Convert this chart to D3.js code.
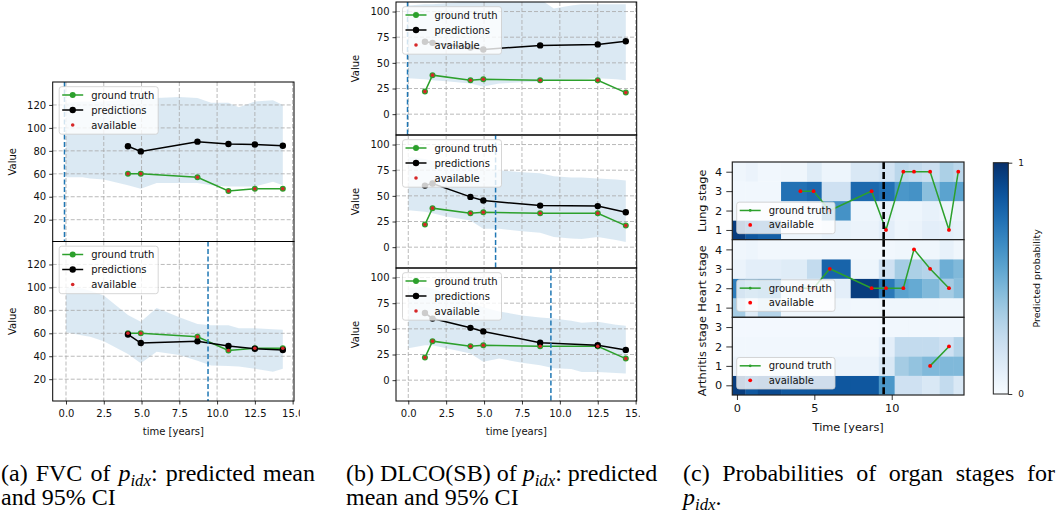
<!DOCTYPE html>
<html>
<head>
<meta charset="utf-8">
<script src="https://cdn.jsdelivr.net/npm/d3@7"></script>
<style>
  body { margin: 0; background: #fff; }
  svg { display: block; }
</style>
</head>
<body>
<div id="root"></div>
<script>
// ---------- data ----------
// (a) FVC
const fvcTimes = [4.1, 4.95, 8.7, 10.75, 12.5, 14.35];
const fvcTruth = [60, 60, 57, 45, 47, 47];
const fvcPred = [
  [84, 79.5, 88, 86, 85.5, 84.5],
  [59, 51.5, 53, 49, 46.5, 45.5]
];
const fvcCutoff = [-0.1, 9.4];
const ciTimes = [0, 1.1, 1.6, 2.5, 4.1, 4.95, 6.0, 7.5, 8.7, 9.6, 10.75, 11.44, 12.5, 13.7, 14.35];
const fvcUpper = [
  [122, 123, 123, 123, 125, 125, 126, 127, 126, 122, 122, 118, 123, 124, 120],
  [100, 99, 97, 93, 76, 70, 82, 74, 68, 67, 67, 64.5, 64.5, 63.5, 63]
];
const fvcLower = [
  [57, 57, 56, 55, 50, 47, 52, 52, 52, 50, 49, 49, 49, 53, 50],
  [61, 58, 57, 53, 42, 34, 44, 41, 36, 32, 31.5, 31, 29, 26.5, 29]
];
const fvcYTicks = [20, 40, 60, 80, 100, 120];

// (b) DLCO(SB)
const dlcoTimes = [1.1, 1.6, 4.1, 4.95, 8.7, 12.5, 14.35];
const dlcoTruth = [22, 38, 33, 34, 33, 33, 21];
const dlcoPred = [
  [70.5, 69.5, 65, 63, 67, 68, 71],
  [60, 62, 49, 45.5, 40.5, 40, 34],
  [65.5, 60, 51, 47.5, 36.5, 34, 29.5]
];
const dlcoCutoff = [-0.05, 5.76, 9.41];
const dlcoUpper = [
  [106, 107, 107, 108, 110, 112, 112, 112, 112, 103, 106, 107, 107, 107, 107],
  [88, 86, 84, 82, 79, 77, 75, 73, 72, 69, 68, 68, 67, 66, 65],
  [90, 91, 89, 85, 76, 71, 67, 63, 61, 60, 58, 56, 57, 54, 53]
];
const dlcoLower = [
  [35, 34, 33, 32, 30, 27, 30, 31, 31.5, 33, 34, 34, 35, 34, 33],
  [36, 34.5, 33, 30, 26, 18, 18, 15.5, 14, 10, 8.5, 8, 10, 7, 5],
  [31, 34, 34, 31, 26, 18, 21, 17, 14.5, 11.5, 11, 8, 8, 7, 6.5]
];
const dlcoYTicks = [0, 25, 50, 75, 100];
const timeTicks = [0, 2.5, 5, 7.5, 10, 12.5, 15];

// (c) organ stage probabilities (rows = stage levels, cols = stageTimes)
const stageTimes = [0, 1.1, 1.6, 4.1, 4.95, 6.0, 8.7, 9.63, 10.75, 11.44, 12.48, 13.7, 14.3];
const lungLevels = [1, 2, 3, 4];
const lungProb = [
  [0.95, 0.85, 0.82, 0.05, 0.05, 0.08, 0.06, 0.10, 0.05, 0.06, 0.10, 0.10, 0.08],
  [0.04, 0.05, 0.04, 0.06, 0.10, 0.62, 0.05, 0.08, 0.05, 0.05, 0.08, 0.05, 0.06],
  [0.03, 0.03, 0.03, 0.75, 0.78, 0.20, 0.78, 0.75, 0.60, 0.62, 0.42, 0.55, 0.55],
  [0.04, 0.06, 0.03, 0.04, 0.12, 0.05, 0.15, 0.18, 0.28, 0.25, 0.22, 0.33, 0.28]
];
const heartLevels = [1, 2, 3, 4];
const heartProb = [
  [0.35, 0.12, 0.30, 0.04, 0.04, 0.04, 0.03, 0.04, 0.04, 0.04, 0.04, 0.04, 0.04],
  [0.70, 0.60, 0.65, 0.15, 0.15, 0.10, 0.95, 0.72, 0.55, 0.52, 0.45, 0.35, 0.42],
  [0.06, 0.10, 0.10, 0.12, 0.25, 0.80, 0.05, 0.20, 0.35, 0.33, 0.30, 0.50, 0.45],
  [0.04, 0.05, 0.03, 0.03, 0.03, 0.03, 0.03, 0.03, 0.04, 0.04, 0.04, 0.08, 0.04]
];
const arthLevels = [0, 1, 2, 3];
const arthProb = [
  [0.95, 0.85, 0.90, 0.85, 0.85, 0.85, 0.85, 0.60, 0.20, 0.20, 0.15, 0.25, 0.15],
  [0.06, 0.06, 0.06, 0.06, 0.06, 0.06, 0.06, 0.15, 0.35, 0.40, 0.45, 0.45, 0.45],
  [0.03, 0.03, 0.03, 0.03, 0.03, 0.03, 0.03, 0.10, 0.25, 0.25, 0.25, 0.20, 0.30],
  [0.02, 0.02, 0.02, 0.02, 0.02, 0.02, 0.02, 0.03, 0.03, 0.03, 0.03, 0.03, 0.03]
];
const lungTruthT = [4.1, 4.95, 6.0, 8.7, 9.63, 10.75, 11.44, 12.48, 13.7, 14.3];
const lungTruth = [3, 3, 2, 3, 1, 4, 4, 4, 1, 4];
const heartTruthT = [4.1, 4.95, 6.0, 8.7, 9.63, 10.75, 11.44, 12.48, 13.7];
const heartTruth = [2, 2, 3, 2, 2, 2, 4, 3, 2];
const arthTruthT = [12.48, 13.7];
const arthTruth = [1, 2];
const stageCutoff = 9.48;

// ---------- drawing ----------
const width = 1060, height = 519;
const font = '"DejaVu Sans", sans-serif';
const gtColor = '#2ca02c', availColor = '#d62728', ciColor = '#1f77b4';

const svg = d3.select('#root').append('svg')
  .attr('width', width).attr('height', height)
  .style('font-family', font);

let clipCount = 0;
function clipRect(x, y, w, h) {
  const id = 'clip' + (clipCount++);
  svg.append('clipPath').attr('id', id)
    .append('rect').attr('x', x).attr('y', y).attr('width', w).attr('height', h);
  return `url(#${id})`;
}

function styleAxis(g, size) {
  g.attr('font-family', null).attr('font-size', null);
  g.select('.domain').remove();
  g.selectAll('.tick line').attr('stroke', '#000').attr('stroke-width', 0.8);
  g.selectAll('.tick text').attr('fill', '#111').style('font-size', size + 'px');
}

function legend(g, x0, y0, w, rows, rowH) {
  const lg = g.append('g');
  lg.append('rect')
    .attr('x', x0).attr('y', y0).attr('width', w).attr('height', rows.length * rowH + 2.5)
    .attr('rx', 2.5).attr('fill', '#fff').attr('fill-opacity', 0.8)
    .attr('stroke', '#cccccc').attr('stroke-width', 0.8);
  rows.forEach((r, i) => {
    const cy = y0 + 8.3 + i * rowH;
    if (r.line) {
      lg.append('line').attr('x1', x0 + 3).attr('x2', x0 + 24).attr('y1', cy).attr('y2', cy)
        .attr('stroke', r.color).attr('stroke-width', 1.5);
    }
    lg.append('circle').attr('cx', x0 + 13.5).attr('cy', cy).attr('r', r.r).attr('fill', r.color);
    lg.append('text').attr('x', x0 + 32).attr('y', cy).attr('dy', '0.35em')
      .style('font-size', '10px').attr('fill', '#111').text(r.label);
  });
}

const seriesLegend = [
  {label: 'ground truth', color: gtColor, line: true, r: 3},
  {label: 'predictions', color: '#000', line: true, r: 3.2},
  {label: 'available', color: availColor, line: false, r: 1.8}
];

function seriesPanel(parent, o) {
  const x = o.x;
  const y = d3.scaleLinear().domain(o.yDomain).range([o.bottom, o.top]);
  const [left, right] = x.range();
  const g = parent.append('g');
  const inner = g.append('g').attr('clip-path', clipRect(left, o.top, right - left, o.bottom - o.top));

  const area = d3.area()
    .x((d, i) => x(ciTimes[i]))
    .y0(d => y(d[0])).y1(d => y(d[1]));
  inner.append('path').datum(d3.zip(o.lower, o.upper))
    .attr('d', area).attr('fill', ciColor).attr('fill-opacity', 0.16);

  // grid
  inner.selectAll('.gx').data(timeTicks).enter().append('line')
    .attr('x1', d => x(d)).attr('x2', d => x(d)).attr('y1', o.top).attr('y2', o.bottom)
    .attr('stroke', '#a8a8a8').attr('stroke-width', 0.8).attr('stroke-dasharray', '4,2');
  inner.selectAll('.gy').data(o.yTicks).enter().append('line')
    .attr('x1', left).attr('x2', right).attr('y1', d => y(d)).attr('y2', d => y(d))
    .attr('stroke', '#a8a8a8').attr('stroke-width', 0.8).attr('stroke-dasharray', '4,2');

  const line = d3.line().x(d => x(d[0])).y(d => y(d[1]));
  const gt = d3.zip(o.times, o.truth);
  const pr = d3.zip(o.times, o.pred);

  inner.append('path').datum(gt).attr('d', line).attr('fill', 'none')
    .attr('stroke', gtColor).attr('stroke-width', 1.5);
  inner.selectAll('.gtp').data(gt).enter().append('circle')
    .attr('cx', d => x(d[0])).attr('cy', d => y(d[1])).attr('r', 3).attr('fill', gtColor);

  inner.append('path').datum(pr).attr('d', line).attr('fill', 'none')
    .attr('stroke', '#000').attr('stroke-width', 1.5);
  inner.selectAll('.prp').data(pr).enter().append('circle')
    .attr('cx', d => x(d[0])).attr('cy', d => y(d[1])).attr('r', 3.2).attr('fill', '#000');

  inner.selectAll('.av').data(gt).enter().append('circle')
    .attr('cx', d => x(d[0])).attr('cy', d => y(d[1])).attr('r', 1.8).attr('fill', availColor);

  inner.append('line')
    .attr('x1', x(o.cutoff)).attr('x2', x(o.cutoff)).attr('y1', o.top).attr('y2', o.bottom)
    .attr('stroke', ciColor).attr('stroke-width', 1.5).attr('stroke-dasharray', '5,2.5');

  g.append('rect').attr('x', left).attr('y', o.top).attr('width', right - left).attr('height', o.bottom - o.top)
    .attr('fill', 'none').attr('stroke', '#000').attr('stroke-width', 1);

  const ya = g.append('g').attr('transform', `translate(${left},0)`)
    .call(d3.axisLeft(y).tickValues(o.yTicks).tickFormat(d3.format('d')).tickSize(3.5).tickPadding(3));
  styleAxis(ya, 10);

  g.append('text')
    .attr('transform', `translate(${o.labelX},${(o.top + o.bottom) / 2}) rotate(-90)`)
    .attr('text-anchor', 'middle').attr('dy', '0.35em')
    .style('font-size', '10px').attr('fill', '#111').text('Value');

  if (o.showX) {
    const xa = g.append('g').attr('transform', `translate(0,${o.bottom})`)
      .call(d3.axisBottom(x).tickValues(timeTicks).tickFormat(d3.format('.1f')).tickSize(3.5).tickPadding(5));
    styleAxis(xa, 10);
    g.append('text').attr('x', (left + right) / 2).attr('y', o.bottom + 30)
      .attr('text-anchor', 'middle').attr('dy', '0.35em')
      .style('font-size', '10px').attr('fill', '#111').text('time [years]');
  }

  legend(g, left + 6.5, o.top + 4.7, 99, seriesLegend, 15);
}

// ---- (a) ----
const xA = d3.scaleLinear().domain([-0.88, 15.09]).range([52.7, 294]);
const aTops = [82, 241.5, 401];
const gA = svg.append('g').attr('clip-path', clipRect(0, 0, 300, 445));
fvcPred.forEach((pred, i) => {
  seriesPanel(gA, {
    x: xA, yDomain: [1, 140], top: aTops[i], bottom: aTops[i + 1],
    times: fvcTimes, truth: fvcTruth, pred: pred,
    upper: fvcUpper[i], lower: fvcLower[i], cutoff: fvcCutoff[i],
    yTicks: fvcYTicks, labelX: 12, showX: i === fvcPred.length - 1
  });
});

// ---- (b) ----
const xB = d3.scaleLinear().domain([-0.81, 15.07]).range([396, 636.7]);
const bTops = [2, 135, 268, 401];
const gB = svg.append('g').attr('clip-path', clipRect(340, 0, 300, 445));
dlcoPred.forEach((pred, i) => {
  seriesPanel(gB, {
    x: xB, yDomain: [-20.3, 109.3], top: bTops[i], bottom: bTops[i + 1],
    times: dlcoTimes, truth: dlcoTruth, pred: pred,
    upper: dlcoUpper[i], lower: dlcoLower[i], cutoff: dlcoCutoff[i],
    yTicks: dlcoYTicks, labelX: 355, showX: i === dlcoPred.length - 1
  });
});

// ---- (c) ----
const xC = d3.scaleLinear().domain([-0.3, 14.67]).range([732.3, 964]);
const colEdges = [xC.domain()[0]]
  .concat(d3.pairs(stageTimes).map(([a, b]) => (a + b) / 2))
  .concat([xC.domain()[1]]);
const cTop = 162, cH = 77.67;
const stagePanels = [
  {name: 'Lung stage', levels: lungLevels, prob: lungProb, tt: lungTruthT, tv: lungTruth},
  {name: 'Heart stage', levels: heartLevels, prob: heartProb, tt: heartTruthT, tv: heartTruth},
  {name: 'Arthritis stage', levels: arthLevels, prob: arthProb, tt: arthTruthT, tv: arthTruth}
];
const stageLegend = [
  {label: 'ground truth', color: gtColor, line: true, r: 1.4},
  {label: 'available', color: 'red', line: false, r: 1.9}
];

stagePanels.forEach((sp, pi) => {
  const top = cTop + pi * cH, bottom = top + cH;
  const y = d3.scaleLinear()
    .domain([d3.min(sp.levels) - 0.5, d3.max(sp.levels) + 0.5])
    .range([bottom, top]);
  const g = svg.append('g');
  const inner = g.append('g').attr('clip-path', clipRect(xC.range()[0], top, xC.range()[1] - xC.range()[0], cH));

  sp.prob.forEach((row, ri) => {
    const lvl = sp.levels[ri];
    inner.selectAll(null).data(row).enter().append('rect')
      .attr('x', (d, ci) => xC(colEdges[ci]))
      .attr('width', (d, ci) => xC(colEdges[ci + 1]) - xC(colEdges[ci]) + 0.3)
      .attr('y', y(lvl + 0.5))
      .attr('height', y(lvl - 0.5) - y(lvl + 0.5) + 0.3)
      .attr('fill', d => d3.interpolateBlues(d));
  });

  const pts = d3.zip(sp.tt, sp.tv);
  inner.append('path').datum(pts)
    .attr('d', d3.line().x(d => xC(d[0])).y(d => y(d[1])))
    .attr('fill', 'none').attr('stroke', gtColor).attr('stroke-width', 1.5);
  inner.selectAll('.gp').data(pts).enter().append('circle')
    .attr('cx', d => xC(d[0])).attr('cy', d => y(d[1])).attr('r', 1.4).attr('fill', gtColor);
  inner.selectAll('.ap').data(pts).enter().append('circle')
    .attr('cx', d => xC(d[0])).attr('cy', d => y(d[1])).attr('r', 1.9).attr('fill', 'red');

  inner.append('line')
    .attr('x1', xC(stageCutoff)).attr('x2', xC(stageCutoff)).attr('y1', top).attr('y2', bottom)
    .attr('stroke', '#000').attr('stroke-width', 2.6).attr('stroke-dasharray', '7,3');

  legend(g, 736.7, bottom - 37.5, 98.3, stageLegend, 14.5);

  g.append('rect').attr('x', xC.range()[0]).attr('y', top)
    .attr('width', xC.range()[1] - xC.range()[0]).attr('height', cH)
    .attr('fill', 'none').attr('stroke', '#222').attr('stroke-width', 1.2);

  const ya = g.append('g').attr('transform', `translate(${xC.range()[0]},0)`)
    .call(d3.axisLeft(y).tickValues(sp.levels).tickFormat(d3.format('d')).tickSize(6).tickPadding(4));
  styleAxis(ya, 11.3);

  g.append('text')
    .attr('transform', `translate(702,${(top + bottom) / 2}) rotate(-90)`)
    .attr('text-anchor', 'middle').attr('dy', '0.35em')
    .style('font-size', '11.3px').attr('fill', '#111').text(sp.name);

  if (pi === stagePanels.length - 1) {
    const xa = g.append('g').attr('transform', `translate(0,${bottom})`)
      .call(d3.axisBottom(xC).tickValues([0, 5, 10]).tickFormat(d3.format('d')).tickSize(5).tickPadding(4));
    styleAxis(xa, 11.3);
    g.append('text').attr('x', (xC.range()[0] + xC.range()[1]) / 2).attr('y', bottom + 32)
      .attr('text-anchor', 'middle').attr('dy', '0.35em')
      .style('font-size', '11.3px').attr('fill', '#111').text('Time [years]');
  }
});

// colorbar
const cb = {x: 993.3, y: 162.7, w: 15, h: 231.3};
const grad = svg.append('defs').append('linearGradient').attr('id', 'blues')
  .attr('x1', 0).attr('y1', 1).attr('x2', 0).attr('y2', 0);
d3.range(0, 1.0001, 0.05).forEach(t => {
  grad.append('stop').attr('offset', t).attr('stop-color', d3.interpolateBlues(t));
});
svg.append('rect').attr('x', cb.x).attr('y', cb.y).attr('width', cb.w).attr('height', cb.h)
  .attr('fill', 'url(#blues)').attr('stroke', '#222').attr('stroke-width', 1);
const cbScale = d3.scaleLinear().domain([0, 1]).range([cb.y + cb.h, cb.y]);
const cba = svg.append('g').attr('transform', `translate(${cb.x + cb.w},0)`)
  .call(d3.axisRight(cbScale).tickValues([0, 1]).tickFormat(d3.format('d')).tickSize(4).tickPadding(6));
styleAxis(cba, 9);
svg.append('text')
  .attr('transform', `translate(1037,${cb.y + cb.h / 2}) rotate(-90)`)
  .attr('text-anchor', 'middle').attr('dy', '0.35em')
  .style('font-size', '9.5px').attr('fill', '#111').text('Predicted probability');

// ---------- captions ----------
// first line of each caption is justified to the column width
const capFont = '"Liberation Serif", "Times New Roman", serif';
const capSize = 24;
const P = [{t: 'p', it: true}, {t: 'idx', it: true, sub: true}];
const captionLines = [
  {x: 1, y: 481, w: 314, parts: [{t: '(a) FVC of '}, ...P, {t: ': predicted mean'}]},
  {x: 1, y: 505, parts: [{t: 'and 95% CI'}]},
  {x: 346, y: 481, w: 311, parts: [{t: '(b) DLCO(SB) of '}, ...P, {t: ': predicted'}]},
  {x: 346, y: 505, parts: [{t: 'mean and 95% CI'}]},
  {x: 683, y: 481, w: 372, parts: [{t: '(c) Probabilities of organ stages for'}]},
  {x: 683, y: 505, parts: [...P, {t: '.'}]}
];
captionLines.forEach(c => {
  const t = svg.append('text').attr('x', c.x).attr('y', c.y)
    .style('font-family', capFont).style('font-size', capSize + 'px').attr('fill', '#000');
  let shift = 0;
  c.parts.forEach(p => {
    const s = t.append('tspan').text(p.t);
    if (p.it) s.style('font-style', 'italic');
    const want = p.sub ? 5 : 0;
    if (want !== shift) { s.attr('dy', want - shift); shift = want; }
    if (p.sub) s.style('font-size', (capSize * 0.7) + 'px');
  });
  if (c.w) {
    const nat = t.node().getComputedTextLength();
    const spaces = c.parts.map(p => p.t).join('').split(' ').length - 1;
    const extra = c.w - nat;
    if (spaces > 0 && extra > 0.5) t.style('word-spacing', (extra / spaces) + 'px');
  }
});
</script>
</body>
</html>
